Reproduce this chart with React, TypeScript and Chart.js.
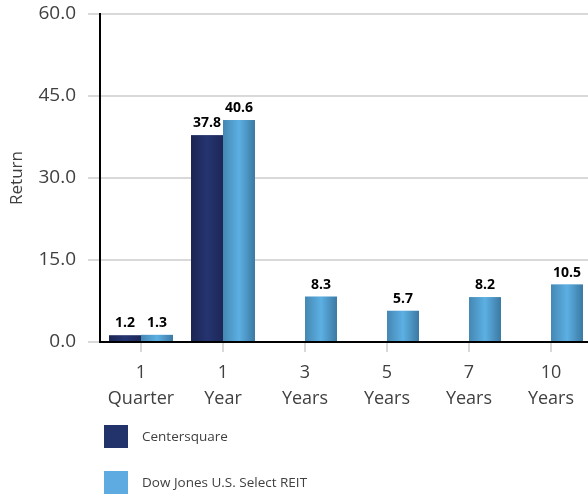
import React, { useEffect, useRef } from "react";
import { Chart, registerables } from "chart.js";

Chart.register(...registerables);

const categories: string[][] = [
  ["1", "Quarter"],
  ["1", "Year"],
  ["3", "Years"],
  ["5", "Years"],
  ["7", "Years"],
  ["10", "Years"],
];
const centersquare: (number | null)[] = [1.2, 37.8, null, null, null, null];
const djReit: (number | null)[] = [1.3, 40.6, 8.3, 5.7, 8.2, 10.5];
const seriesNames = ["Centersquare", "Dow Jones U.S. Select REIT"];
const yTicks = { min: 0, max: 60, step: 15 };

const FONT = "'Open Sans', 'Noto Sans', sans-serif";
const legendColors = ["#22326b", "#5dabe0"];
const gradients = [
  ["#1c2652", "#253471", "#1d2857"],
  ["#4587b3", "#5cb0e3", "#3c79a3"],
];

const barStylePlugin = {
  id: "barStyle",
  afterDatasetsDraw(chart: any) {
    const ctx = chart.ctx;
    ctx.save();
    chart.data.datasets.forEach((ds: any, di: number) => {
      const meta = chart.getDatasetMeta(di);
      meta.data.forEach((el: any, i: number) => {
        const v = ds.data[i];
        if (v === null || v === undefined) return;
        const p = el.getProps(["x", "y", "base", "width"], true);
        const l = p.x - p.width / 2;
        const r = p.x + p.width / 2;
        const g = ctx.createLinearGradient(l, 0, r, 0);
        g.addColorStop(0, gradients[di][0]);
        g.addColorStop(0.5, gradients[di][1]);
        g.addColorStop(1, gradients[di][2]);
        ctx.fillStyle = g;
        ctx.fillRect(l, p.y, r - l, p.base - p.y);
      });
    });
    // data labels
    ctx.fillStyle = "#000";
    ctx.font = `bold 14px ${FONT}`;
    ctx.textAlign = "center";
    ctx.textBaseline = "alphabetic";
    chart.data.datasets.forEach((ds: any, di: number) => {
      const meta = chart.getDatasetMeta(di);
      meta.data.forEach((el: any, i: number) => {
        const v = ds.data[i];
        if (v === null || v === undefined) return;
        const p = el.getProps(["x", "y"], true);
        ctx.fillText(v.toFixed(1), p.x, p.y - 8);
      });
    });
    ctx.restore();
  },
  afterDraw(chart: any) {
    const ctx = chart.ctx;
    const left = chart.chartArea.left + 4;
    const tops = [425, 471];
    ctx.save();
    ctx.font = `13.5px ${FONT}`;
    ctx.textAlign = "left";
    ctx.textBaseline = "middle";
    chart.data.datasets.forEach((ds: any, di: number) => {
      const top = tops[di];
      ctx.fillStyle = legendColors[di];
      ctx.fillRect(left, top, 24, 23);
      ctx.fillStyle = "#404040";
      ctx.fillText(ds.label, left + 38, top + 12.5);
    });
    ctx.restore();
  },
};

export default function App() {
  const ref = useRef<HTMLCanvasElement>(null);
  useEffect(() => {
    if (!ref.current) return;
    const chart = new Chart(ref.current, {
      type: "bar",
      data: {
        labels: categories as any,
        datasets: [
          {
            label: seriesNames[0],
            data: centersquare,
            backgroundColor: legendColors[0],
            categoryPercentage: 0.78,
            barPercentage: 1,
          },
          {
            label: seriesNames[1],
            data: djReit,
            backgroundColor: legendColors[1],
            categoryPercentage: 0.78,
            barPercentage: 1,
          },
        ],
      },
      options: {
        responsive: false,
        animation: false,
        layout: { padding: { top: 14, right: 4, left: 0, bottom: 0 } },
        plugins: {
          legend: { display: false },
          tooltip: { enabled: false },
        },
        scales: {
          x: {
            z: 1,
            border: { color: "#000", width: 2 },
            grid: {
              offset: false,
              drawOnChartArea: false,
              drawTicks: true,
              tickLength: 10,
              color: "#d9d9d9",
              lineWidth: 2,
            },
            ticks: {
              color: "#404040",
              font: { family: FONT, size: 18, lineHeight: 1.45 },
              padding: 8,
              maxRotation: 0,
              autoSkip: false,
            },
            afterFit(scale: any) {
              scale.height = 155;
              scale.paddingLeft = 0;
              scale.paddingRight = 0;
            },
          },
          y: {
            min: yTicks.min,
            max: yTicks.max,
            border: { color: "#000", width: 2 },
            grid: { color: "#d9d9d9", lineWidth: 2, tickLength: 12 },
            ticks: {
              stepSize: yTicks.step,
              color: "#404040",
              padding: 12,
              font: { family: FONT, size: 19 },
              callback: (v: any) => Number(v).toFixed(1),
            },
            title: {
              display: true,
              text: "Return",
              color: "#404040",
              font: { family: FONT, size: 17 },
              padding: { top: 7, bottom: 0 },
            },
            afterFit(scale: any) {
              scale.width = 100;
              scale.paddingTop = 0;
              scale.paddingBottom = 0;
            },
          },
        },
      },
      plugins: [barStylePlugin],
    });
    return () => chart.destroy();
  }, []);
  return (
    <div
      style={{
        position: "fixed",
        left: 0,
        top: 0,
        width: 588,
        height: 497,
        overflow: "hidden",
        background: "#fff",
      }}
    >
      <canvas ref={ref} width={596} height={497} style={{ display: "block" }} />
    </div>
  );
}
